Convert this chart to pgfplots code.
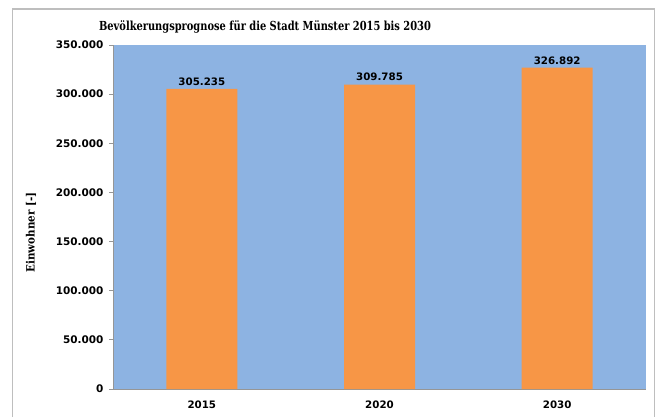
\documentclass[border=0pt]{standalone}
\usepackage{fontspec}
\setmainfont{DejaVu Sans}
\newfontfamily\slab{DejaVu Serif Condensed}
\usepackage{graphicx}
\usepackage{pgfplots}
\pgfplotsset{compat=1.18}
\definecolor{bgblue}{RGB}{141,179,226}
\definecolor{barorange}{RGB}{247,150,70}
\definecolor{axgrey}{RGB}{150,150,150}
\definecolor{framegrey}{RGB}{190,190,190}
\begin{document}
\begin{tikzpicture}[x=1bp,y=1bp]
\useasboundingbox (0,0) rectangle (659,417);
\fill[white] (0,0) rectangle (659,417);
\draw[framegrey, line width=1.2bp] (12.5,0) -- (12.5,408) -- (654.5,408) -- (654.5,0);
\node[anchor=base, font={\fontsize{12.5}{14}\slab\bfseries}] at (265,387) {\scalebox{0.88}[1]{Bevölkerungsprognose für die Stadt Münster 2015 bis 2030}};
\begin{axis}[
  at={(113bp,28bp)}, anchor=south west,
  width=533bp, height=344bp, scale only axis,
  xmin=-0.5, xmax=2.5, ymin=0, ymax=350000,
  axis background/.style={fill=bgblue},
  axis x line*=bottom, axis y line*=left,
  axis line style={axgrey, line width=0.8bp},
  ybar, bar width=71bp,
  ytick={0,50000,...,350000},
  scaled y ticks=false,
  /pgf/number format/.cd, fixed, 1000 sep={.}, assume math mode=true, /pgfplots/.cd,
  yticklabel style={font={\fontsize{10.5}{12}\selectfont\bfseries}, xshift=-2bp},
  xticklabel style={font={\fontsize{10.3}{12}\selectfont\bfseries}, yshift=-4bp},
  xtick={0,1,2}, xticklabels={2015,2020,2030},
  major x tick style={draw=none},
  extra x ticks={-0.5,0.5,1.5,2.5}, extra x tick labels={},
  extra x tick style={major tick length=4bp, tick style={axgrey, line width=0.8bp, draw=axgrey}},
  tick align=outside, major tick length=4bp,
  y tick style={axgrey, line width=0.8bp},
  ylabel={Einwohner [-]},
  ylabel style={at={(axis description cs:-0.154,0.455)}, anchor=center, font={\fontsize{11.5}{13}\slab\bfseries}},
  nodes near coords,
  nodes near coords style={font={\fontsize{10.3}{12}\selectfont\bfseries}, /pgf/number format/.cd, fixed, 1000 sep={.}, assume math mode=true},
  point meta=y,
  clip=false,
]
\addplot[fill=barorange, draw=none] coordinates {(0,305235) (1,309785) (2,326892)};
\end{axis}
\end{tikzpicture}
\end{document}
